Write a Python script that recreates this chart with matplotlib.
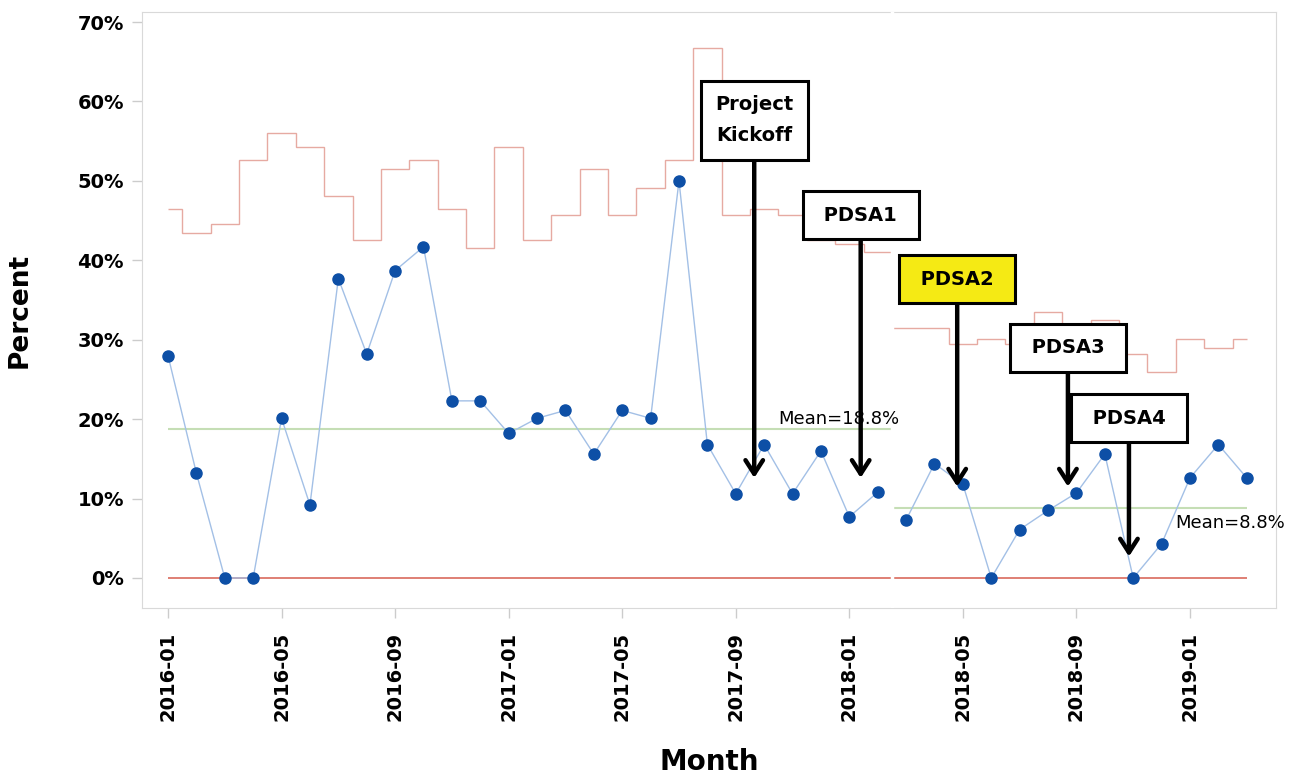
import matplotlib
matplotlib.use("Agg")
import matplotlib.pyplot as plt
import numpy as np
import pandas as pd

# monthly categories 2016-01 .. 2019-03
months = pd.period_range("2016-01", "2019-03", freq="M").strftime("%Y-%m").tolist()

# percent values per month
pct = [28.0, 13.2, 0.0, 0.0, 20.1, 9.2, 37.7, 28.2, 38.7, 41.7, 22.3, 22.3, 18.2,
       20.1, 21.1, 15.6, 21.1, 20.1, 50.0, 16.8, 10.6, 16.8, 10.6, 16.0, 7.7, 10.8,
       7.3, 14.4, 11.8, 0.0, 6.1, 8.5, 10.7, 15.6, 0.0, 4.3, 12.6, 16.8, 12.6]

# upper control limit per month
ucl = [46.5, 43.4, 44.6, 52.6, 56.0, 54.3, 48.1, 42.5, 51.5, 52.6, 46.5, 41.5, 54.3,
       42.5, 45.7, 51.5, 45.7, 49.1, 52.6, 66.7, 45.7, 46.5, 45.7, 42.6, 42.1, 41.0,
       31.5, 31.5, 29.4, 30.1, 29.4, 33.5, 31.0, 32.5, 28.2, 25.9, 30.1, 28.9, 30.1]

phase_len = [26, 13]
phase_mean = [18.8, 8.8]
phase_lcl = [0.0, 0.0]

# (label, month position, box level, arrow tip level, box colour)
notes = [("Project\nKickoff", 20.65, 57.6, 12.6, "white"),
         (" PDSA1 ", 24.4, 45.7, 12.6, "white"),
         (" PDSA2 ", 27.8, 37.6, 11.5, "#f5ea14"),
         (" PDSA3 ", 31.7, 29.0, 11.5, "white"),
         (" PDSA4 ", 33.85, 20.1, 2.7, "white")]

fig = plt.figure(figsize=(12.89, 7.74), dpi=100)
ax = fig.add_axes([142/1289, 166/774, 1134/1289, 596/774])

x = np.arange(len(pct))
start = 0
for n, m, l in zip(phase_len, phase_mean, phase_lcl):
    xi = x[start:start + n]
    lo = 0 if start == 0 else start - 0.5
    hi = start + n - 0.5 if start + n < len(pct) else start + n - 1
    edges = np.concatenate([[lo], xi[:-1] + 0.5, [hi]])
    ax.stairs(ucl[start:start + n], edges, baseline=None, color="#e6aaa2", lw=1.0, zorder=1)
    ax.hlines(m, lo, hi, color="#c5deb5", lw=1.5, zorder=1)
    ax.hlines(l, lo, hi, color="#d9695c", lw=1.2, zorder=1)
    ax.plot(xi, pct[start:start + n], color="#a3c0e6", lw=1, zorder=2)
    ax.plot(xi, pct[start:start + n], "o", color="#0d4fa6", ms=8, zorder=4)
    start += n

# phase break
ax.axvline(25.5, color="white", lw=2.5, zorder=3)

ax.text(21.5, 20.0, "Mean=18.8%", fontsize=13, va="center", ha="left")
ax.text(35.47, 6.9, "Mean=8.8%", fontsize=13, va="center", ha="left", clip_on=False)

for label, xp, yb, yt, fc in notes:
    ax.annotate(label, xy=(xp, yt), xytext=(xp, yb), textcoords="data",
                ha="center", va="center", fontsize=14, fontweight="bold",
                linespacing=1.8, zorder=6,
                bbox=dict(boxstyle="square,pad=0.75", fc=fc, ec="black", lw=2.2),
                arrowprops=dict(arrowstyle="->,head_length=0.7,head_width=0.45",
                                color="black", lw=3.2, shrinkA=0, shrinkB=0))

ax.set_xlim(-0.916, 39.03)
ax.set_ylim(-3.78, 71.26)
ax.set_yticks(np.arange(0, 71, 10))
ax.set_yticklabels([f"{v}%" for v in range(0, 71, 10)], fontsize=14, fontweight="bold")
ax.set_xticks(x[::4])
ax.set_xticklabels(months[::4], rotation=90, fontsize=14, fontweight="bold")
ax.tick_params(axis="both", color="#cccccc", length=7, width=1)
ax.tick_params(axis="y", pad=6)
ax.tick_params(axis="x", pad=10)
for s in ax.spines.values():
    s.set_color("#d9d9d9")

fig.text(20/1289, 1 - 310/774, "Percent", rotation=90, fontsize=19, fontweight="bold",
         ha="center", va="center")
fig.text(709/1289, 1 - 762/774, "Month", fontsize=20, fontweight="bold",
         ha="center", va="center")

fig.savefig("out.png", dpi=100)
